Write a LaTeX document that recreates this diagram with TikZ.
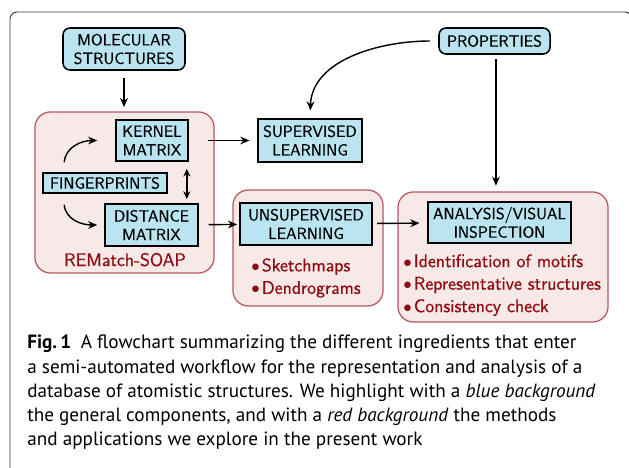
\documentclass[tikz,border=0pt]{standalone}
\usepackage{fontspec}
\newfontfamily\capfont{PT Sans}
\newfontfamily\diafont{Latin Modern Sans}[FakeBold=0.7]
\usetikzlibrary{arrows.meta,positioning,calc}
\definecolor{FlowBlue}{HTML}{B9E4F0}
\definecolor{FlowRedFill}{HTML}{F8E9E9}
\definecolor{FlowRedLine}{HTML}{B65A5E}
\definecolor{FlowRedText}{HTML}{8E0B10}
\definecolor{FrameGray}{HTML}{3A3A3A}
\newcommand\listdot{$\bullet$\kern1.5pt}

\begin{document}
\begin{tikzpicture}[x=0.025cm,y=-0.025cm,
    genbox/.style={draw=black,fill=FlowBlue,line width=1.1pt,align=center,
      font=\diafont\fontsize{11.5}{13.2}\selectfont,inner sep=0pt},
    roundbox/.style={genbox,rounded corners=5pt},
    methodbox/.style={draw=FlowRedLine,fill=FlowRedFill,line width=0.9pt,
      rounded corners=11pt,inner sep=0pt},
    methodtext/.style={text=FlowRedText,align=left,
      font=\diafont\fontsize{13}{16}\selectfont,inner sep=0pt},
    flow/.style={-{Stealth[length=6.5pt,width=5.5pt]},line width=1pt},
    dflow/.style={{Stealth[length=5.5pt,width=5pt]}-{Stealth[length=5.5pt,width=5pt]},line width=1pt}]
  \useasboundingbox (0,0) rectangle (629,467);
  % frame of the figure
  \draw[FrameGray,line width=0.7pt,rounded corners=5pt] (10,475) -- (10,12) -- (632,12) -- (632,475);

  % red backgrounds
  \node[methodbox,minimum width=4.475cm,minimum height=4.025cm] (soap) at (124.5,192.5) {};
  \node[methodbox,minimum width=3.75cm,minimum height=2.9cm] (unsup) at (308,248) {};
  \node[methodbox,minimum width=5.25cm,minimum height=3.25cm] (analysis) at (503,257) {};

  % blue boxes
  \node[roundbox,minimum width=3.05cm,minimum height=1.05cm] (mol) at (124,49) {MOLECULAR\\STRUCTURES};
  \node[roundbox,minimum width=2.775cm,minimum height=0.65cm] (prop) at (494.5,41) {PROPERTIES};
  \node[genbox,minimum width=1.8cm,minimum height=1.025cm] (kernel) at (152,140.5) {KERNEL\\MATRIX};
  \node[genbox,minimum width=3.1cm,minimum height=0.5cm] (finger) at (105,183) {FINGERPRINTS};
  \node[genbox,minimum width=2.325cm,minimum height=1.05cm] (dist) at (151.5,225) {DISTANCE\\MATRIX};
  \node[genbox,minimum width=2.6cm,minimum height=1.075cm] (super) at (310,140.5) {SUPERVISED\\LEARNING};
  \node[genbox,minimum width=3.3cm,minimum height=1.05cm] (unsupbox) at (306,224) {UNSUPERVISED\\LEARNING};
  \node[genbox,minimum width=3.575cm,minimum height=1.025cm] (anabox) at (499.5,222.5) {ANALYSIS/VISUAL\\INSPECTION};

  % red texts
  \node[methodtext,anchor=base] (soaplabel) at (125,266) {REMatch-SOAP};
  \node[methodtext,anchor=north west] (unsuplist) at (251,258)
    {\listdot Sketchmaps\\ \listdot Dendrograms};
  \node[methodtext,anchor=north west] (analist) at (403,254)
    {\listdot Identification of motifs\\ \listdot Representative structures\\ \listdot Consistency check};

  % connectors
  \draw[flow,shorten <=5pt,shorten >=3pt] (mol) -- (mol |- soap.north);
  \draw[flow,shorten <=14pt,shorten >=5.5pt] (kernel) -- (super);
  \draw[flow,shorten <=7pt,shorten >=1.5pt] (dist) -- (unsupbox);
  \draw[flow,shorten <=3pt,shorten >=5.5pt] (unsupbox) -- (anabox);
  \draw[flow,shorten <=6pt,shorten >=5.5pt] (prop.west) to[out=180,in=88] (super.north);
  \draw[flow,shorten <=3pt,shorten >=4pt] ([xshift=1pt]prop.south) -- ([xshift=1pt]prop.south |- analysis.north);
  \draw[dflow,shorten <=5pt,shorten >=3pt] ([xshift=-1.4pt]kernel.south east) -- ([xshift=-1.4pt]kernel.south east |- dist.north);
  \draw[flow] ($(finger.north west)+(22,-10)$) to[out=85,in=180] ($(kernel.west)+(-18,0)$);
  \draw[flow] ($(finger.south west)+(22,11)$) to[out=-85,in=180] ($(dist.west)+(-7,0)$);

  % caption
  \node[anchor=north west,align=left,inner sep=0pt,
    font=\capfont\fontsize{13.65}{17.2}\selectfont] (caption) at (27,335)
    {\textbf{Fig.\,1}\enspace A flowchart summarizing the different ingredients that enter\\
     a semi-automated workflow for the representation and analysis of a\\
     database of atomistic structures. We highlight with a \textit{blue background}\\
     the general components, and with a \textit{red background} the methods\\
     and applications we explore in the present work};
\end{tikzpicture}
\end{document}
